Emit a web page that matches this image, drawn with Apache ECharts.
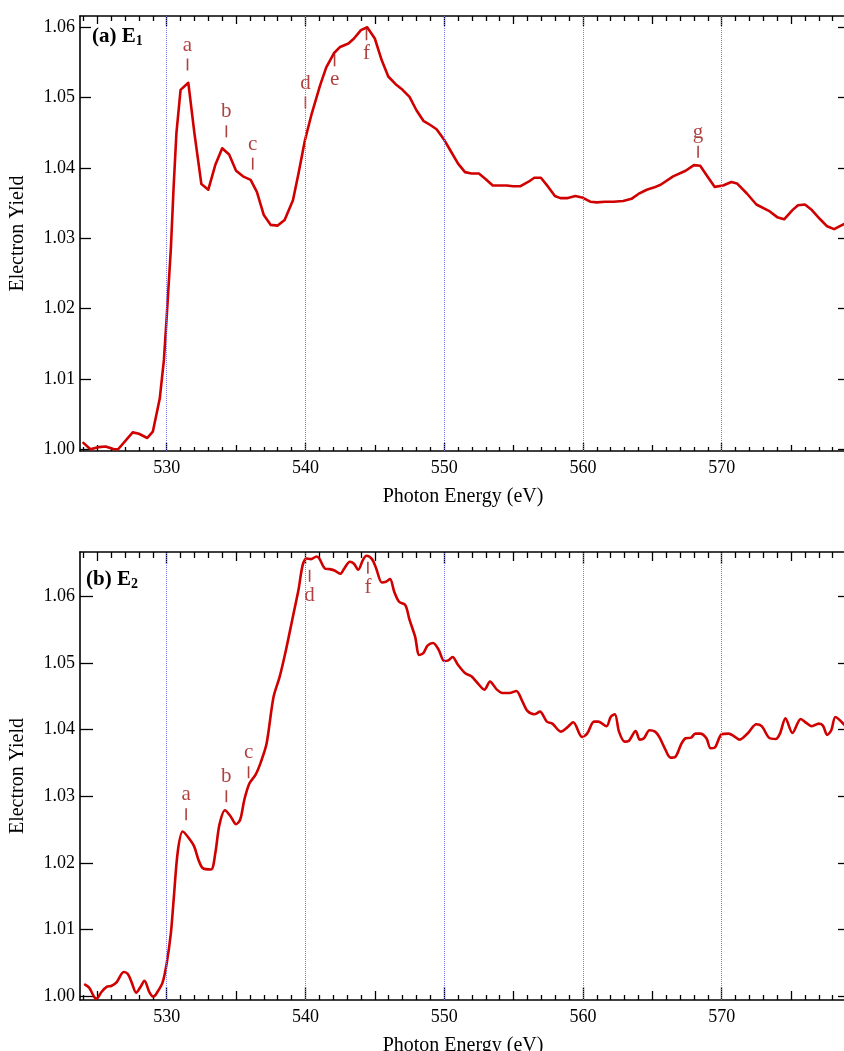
<!DOCTYPE html>
<html><head><meta charset="utf-8">
<script src="https://cdn.jsdelivr.net/npm/echarts@6/dist/echarts.min.js"></script>
<style>html,body{margin:0;padding:0;background:#fff}#c{width:844px;height:1051px}</style>
</head><body><div id="c"></div>
<script>
// ---------- data ----------
const energyA = [524.0,524.5,525.1,525.6,526.2,526.5,527.55,528.0,528.6,529.0,529.5,529.8,530.0,530.3,530.5,530.7,531.0,531.56,532.0,532.5,533.0,533.5,534.0,534.5,535.0,535.5,536.05,536.5,537.0,537.5,538.0,538.5,539.1,539.5,539.96,540.45,541.05,541.5,542.05,542.5,543.1,543.5,544.0,544.45,545.0,545.5,545.97,546.5,547.0,547.5,548.0,548.5,549.0,549.45,550.0,550.5,551.0,551.5,551.97,552.5,553.0,553.5,554.0,554.5,554.97,555.5,556.05,556.5,556.97,557.5,557.98,558.37,558.85,559.45,559.93,560.53,561.0,561.6,562.2,562.9,563.5,564.0,564.6,565.1,565.6,566.5,567.4,568.0,568.45,569.0,569.5,570.1,570.7,571.1,571.8,572.5,573.4,574.0,574.5,575.1,575.5,576.0,576.5,577.1,577.6,578.1,578.8];
const yieldA = [1.0009,1.0000,1.0003,1.0004,1.0000,1.0000,1.0024,1.0022,1.0016,1.0025,1.0072,1.0127,1.0188,1.0285,1.0373,1.0449,1.0511,1.0521,1.0449,1.0377,1.0369,1.0404,1.0428,1.0419,1.0396,1.0388,1.0383,1.0366,1.0333,1.0319,1.0318,1.0326,1.0354,1.0392,1.0439,1.0477,1.0517,1.0543,1.0563,1.0572,1.0577,1.0584,1.0596,1.0600,1.0584,1.0553,1.0530,1.0519,1.0511,1.0501,1.0482,1.0467,1.0461,1.0455,1.0440,1.0423,1.0406,1.0394,1.0392,1.0392,1.0384,1.0375,1.0375,1.0375,1.0374,1.0374,1.0380,1.0386,1.0386,1.0373,1.0360,1.0357,1.0357,1.0360,1.0358,1.0352,1.0351,1.0352,1.0352,1.0353,1.0356,1.0363,1.0369,1.0372,1.0376,1.0388,1.0396,1.0404,1.0403,1.0387,1.0373,1.0375,1.0380,1.0378,1.0364,1.0348,1.0339,1.0330,1.0327,1.0340,1.0347,1.0348,1.0340,1.0327,1.0317,1.0313,1.0320];

const energyB = [524.12,524.43,524.76,524.95,525.3,525.7,526.0,526.4,526.9,527.2,527.5,527.8,528.1,528.4,528.75,529.04,529.3,529.7,530.0,530.3,530.5,530.8,531.15,531.56,531.97,532.3,532.6,533.2,533.5,533.8,534.2,534.6,535.0,535.3,535.6,535.96,536.4,536.8,537.2,537.7,538.15,538.6,539.1,539.5,539.8,540.07,540.4,540.8,541.0,541.4,541.75,542.1,542.5,542.8,543.2,543.5,543.8,544.15,544.4,544.8,545.1,545.5,545.8,546.1,546.4,546.75,547.2,547.5,547.9,548.2,548.5,548.8,549.2,549.6,550.0,550.3,550.6,551.0,551.5,551.96,552.4,552.9,553.3,553.8,554.2,554.7,555.2,555.6,556.0,556.5,556.9,557.4,557.8,558.4,558.85,559.3,559.93,560.3,560.8,561.1,561.7,562.0,562.3,562.6,563.0,563.3,563.8,564.1,564.4,564.8,565.2,565.5,565.9,566.3,566.65,567.1,567.4,567.8,568.1,568.45,568.9,569.2,569.5,570.0,570.5,570.9,571.3,571.9,572.5,572.9,573.4,573.9,574.2,574.6,575.1,575.7,576.1,576.5,577.0,577.3,577.6,577.9,578.2,578.8];
const yieldB = [1.0017,1.0012,0.9999,0.9996,1.0006,1.0014,1.0015,1.0021,1.0036,1.0033,1.0019,1.0005,1.0013,1.0023,1.0006,0.9999,1.0005,1.0020,1.0049,1.0094,1.0144,1.0217,1.0247,1.0238,1.0225,1.0204,1.0192,1.0190,1.0214,1.0257,1.0279,1.0270,1.0258,1.0265,1.0295,1.0319,1.0332,1.0352,1.0379,1.0449,1.0480,1.0520,1.0570,1.0610,1.0647,1.0657,1.0656,1.0660,1.0657,1.0642,1.0641,1.0639,1.0634,1.0642,1.0652,1.0649,1.0640,1.0655,1.0661,1.0656,1.0642,1.0621,1.0622,1.0626,1.0607,1.0592,1.0587,1.0565,1.0540,1.0512,1.0515,1.0526,1.0530,1.0520,1.0503,1.0504,1.0509,1.0497,1.0485,1.0480,1.0470,1.0460,1.0472,1.0460,1.0455,1.0455,1.0458,1.0444,1.0428,1.0423,1.0427,1.0412,1.0409,1.0397,1.0403,1.0411,1.0389,1.0394,1.0412,1.0412,1.0405,1.0419,1.0423,1.0397,1.0382,1.0383,1.0398,1.0385,1.0387,1.0399,1.0397,1.0389,1.0372,1.0358,1.0359,1.0379,1.0387,1.0388,1.0394,1.0394,1.0387,1.0372,1.0373,1.0393,1.0394,1.0390,1.0385,1.0395,1.0408,1.0405,1.0388,1.0386,1.0394,1.0417,1.0395,1.0416,1.0410,1.0405,1.0409,1.0406,1.0392,1.0399,1.0419,1.0408];

const annoLettersA = ['a','b','c','d','e','f','g'];
const annoEnergyA  = [531.5,534.3,536.2,540.0,542.1,544.4,568.3];
const annoYieldA   = [1.0547,1.0452,1.0406,1.0493,1.0553,1.0590,1.0423];
const annoSideA    = ['top','top','top','top','bottom','bottom','top'];

const annoLettersB = ['a','b','c','d','f'];
const annoEnergyB  = [531.4,534.3,535.9,540.3,544.5];
const annoYieldB   = [1.0273,1.0300,1.0336,1.0631,1.0643];
const annoSideB    = ['top','top','top','bottom','bottom'];

const xMajorTicks = [530,540,550,560,570];
const xMidTicks = [525,535,545,555,565,575];
const yTicks = [1.00,1.01,1.02,1.03,1.04,1.05,1.06];
const dottedLineEnergies = [530,540,550,560,570];
const panelTitles = ['{p|(a) E}{s|1}','{p|(b) E}{s|2}'];

// ---------- chart ----------
const xMinorTicks = [];
for (let e = 524; e <= 578; e++) if (e % 5 !== 0) xMinorTicks.push(e);

const FONT = 'Liberation Serif';
const X_MIN = 523.752, X_MAX = 578.96;
const Y_RANGES = [[0.99975, 1.0616],[0.9994, 1.06667]];
const GRIDS = [
  {left:80, top:16, width:766, height:435, containLabel:false, outerBoundsMode:'none'},
  {left:80, top:552, width:766, height:448, containLabel:false, outerBoundsMode:'none'}
];
const TICKLEN = [{bottom:[8,6,4], top:[10,8,5], left:11, right:8},{bottom:[13,9,5], top:[12,9,6], left:13, right:8}];
const LETTER_COLOR = '#9a1010';
const SMOOTH = [false, 0.3];

const xAxis = [], yAxis = [];
GRIDS.forEach((g, gi) => {
  ['bottom','top'].forEach(pos => {
    const lens = TICKLEN[gi][pos];
    [xMajorTicks, xMidTicks, xMinorTicks].forEach((vals, k) => {
      const ax = {
        type:'value', gridIndex:gi, position:pos, min:X_MIN, max:X_MAX,
        axisLine:{show:k===0, lineStyle:{color:'#000', width:1.6}},
        axisTick:{show:true, inside:true, length:lens[k], customValues:vals, lineStyle:{color:'#000', width:1.3}},
        axisLabel:{show:false},
        splitLine:{show:false}
      };
      if (pos==='bottom' && k===0) {
        ax.axisLabel = {show:true, customValues:xMajorTicks, margin:8, fontFamily:FONT, fontSize:18, color:'#000'};
        ax.name = 'Photon Energy (eV)';
        ax.nameLocation = 'middle';
        ax.nameGap = 36;
        ax.nameTextStyle = {fontFamily:FONT, fontSize:20, color:'#000'};
      }
      xAxis.push(ax);
    });
  });
  ['left','right'].forEach(pos => {
    const ax = {
      type:'value', gridIndex:gi, position:pos, min:Y_RANGES[gi][0], max:Y_RANGES[gi][1],
      axisLine:{show:true, lineStyle:{color:'#000', width:1.6}},
      axisTick:{show:true, inside:true, length:TICKLEN[gi][pos], customValues:yTicks, lineStyle:{color:'#000', width:1.3}},
      axisLabel:{show:false},
      splitLine:{show:false}
    };
    if (pos==='left') {
      ax.axisLabel = {show:true, customValues:yTicks, margin:5, fontFamily:FONT, fontSize:18, color:'#000', formatter:v=>v.toFixed(2)};
      ax.name = 'Electron Yield';
      ax.nameLocation = 'middle';
      ax.nameGap = 52;
      ax.nameTextStyle = {fontFamily:FONT, fontSize:20, color:'#000'};
    }
    yAxis.push(ax);
  });
});

function curveSeries(es, ys, gi) {
  return {
    type:'line', xAxisIndex:gi*6, yAxisIndex:gi*2,
    data: es.map((e,i)=>[e, ys[i]]),
    showSymbol:false, smooth:SMOOTH[gi],
    lineStyle:{color:'#d00000', width:2.6, join:'round', cap:'round'},
    itemStyle:{color:'#d00000'},
    z:3,
    markLine:{
      silent:true, symbol:['none','none'], label:{show:false}, animation:false,
      lineStyle:{color:'#7a7af2', type:'dotted', width:1},
      data: dottedLineEnergies.map(e=>({xAxis:e}))
    }
  };
}
function annoSeries(letters, es, ys, sides, gi) {
  return {
    type:'scatter', xAxisIndex:gi*6, yAxisIndex:gi*2,
    symbol:'rect', symbolSize:[1.6,12],
    itemStyle:{color:LETTER_COLOR},
    z:4,
    data: letters.map((l,i)=>({
      value:[es[i], ys[i]],
      label:{show:true, position:sides[i], distance:3, formatter:l,
        fontFamily:FONT, fontSize:21, color:LETTER_COLOR}
    }))
  };
}

const chart = echarts.init(document.getElementById('c'), null, {renderer:'canvas'});
chart.setOption({
  animation:false,
  backgroundColor:'#fff',
  title: panelTitles.map((t,i)=>({
    text:t, left: i===0 ? 87 : 81, top: i===0 ? 21 : 564,
    textStyle:{rich:{
      p:{fontFamily:FONT, fontWeight:'bold', fontSize:21, color:'#000', lineHeight:22},
      s:{fontFamily:FONT, fontWeight:'bold', fontSize:14, color:'#000', lineHeight:14, verticalAlign:'bottom'}
    }}
  })),
  grid: GRIDS,
  xAxis, yAxis,
  series:[
    curveSeries(energyA, yieldA, 0),
    annoSeries(annoLettersA, annoEnergyA, annoYieldA, annoSideA, 0),
    curveSeries(energyB, yieldB, 1),
    annoSeries(annoLettersB, annoEnergyB, annoYieldB, annoSideB, 1)
  ]
});
</script>
</body></html>
